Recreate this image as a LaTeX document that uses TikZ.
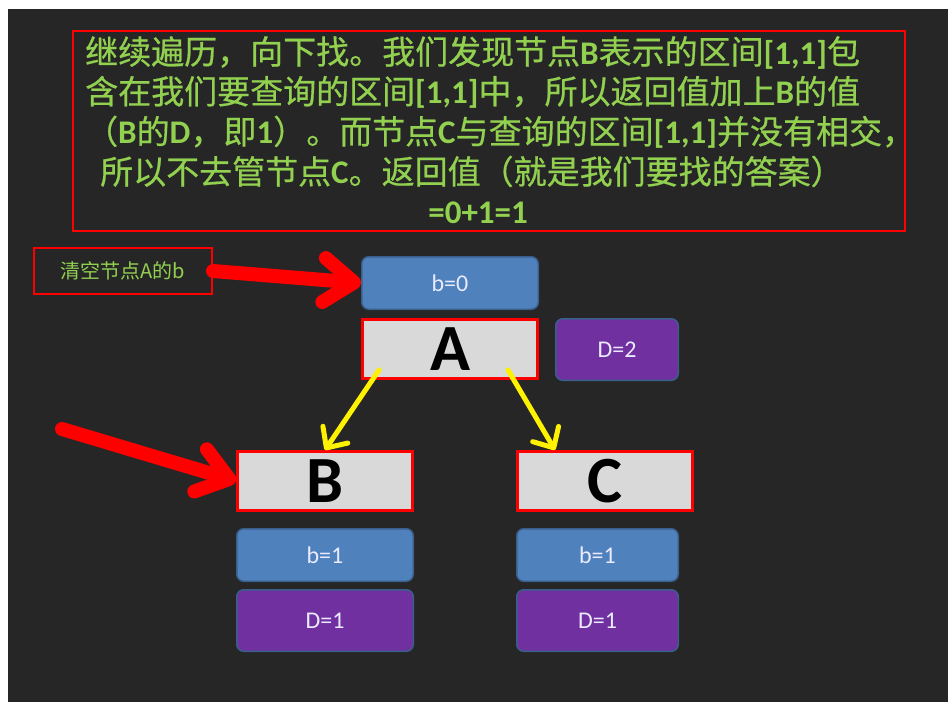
\documentclass[tikz,border=0pt]{standalone}
\usepackage{fontspec}
\setmainfont{Carlito}
\newfontfamily\cjk{Noto Sans CJK SC}
\newfontfamily\cjkheavy[FakeBold=0.6]{Noto Sans CJK SC}
\usetikzlibrary{arrows.meta,positioning}
\definecolor{bgdark}{HTML}{262626}
\definecolor{txgreen}{HTML}{92D050}
\definecolor{bxblue}{HTML}{4F81BD}
\definecolor{bxedge}{HTML}{3A5F8C}
\definecolor{bxpurple}{HTML}{7030A0}
\definecolor{bxgray}{HTML}{D9D9D9}
\newcommand{\lt}[1]{{\rmfamily\bfseries #1}}

\begin{document}
\begin{tikzpicture}[x=1pt,y=-1pt,
  seg/.style={draw=red,line width=3pt,fill=bxgray,minimum width=175pt,minimum height=59pt,
    inner sep=0pt,font=\fontsize{66}{66}\selectfont\bfseries},
  bval/.style={draw=bxedge,line width=1.5pt,fill=bxblue,rounded corners=7pt,minimum width=176.5pt,
    minimum height=52.5pt,inner sep=0pt,text=white!92!blue,font=\fontsize{24}{24}\selectfont},
  dval/.style={bval,fill=bxpurple,minimum height=61.5pt},
  bigarr/.style={red,line width=14pt,line cap=round,-{Straight Barb[length=30pt,width=44pt,round]}},
  yarr/.style={yellow,line width=5pt,line cap=round,-{Straight Barb[length=16pt,width=30pt,round]}}]
  \useasboundingbox (0,0) rectangle (948,702);
  \fill[white] (0,0) rectangle (948,702);
  \fill[bgdark] (8,9) rectangle (948,702);
  % explanation at the top
  \node[draw=red,line width=2pt,minimum width=832pt,minimum height=200pt] (note) at (489,131) {};
  \node[anchor=north west,inner sep=0pt,text=txgreen,font=\cjkheavy\fontsize{33}{39.5}\selectfont] (notetext) at (85,36)
    {\begin{tabular}{@{}l@{}}
      继续遍历，向下找。我们发现节点\lt{B}表示的区间\lt{[1,1]}包\\
      含在我们要查询的区间\lt{[1,1]}中，所以返回值加上\lt{B}的值\\
      （\lt{B}的\lt{D}，即\lt{1}）。而节点\lt{C}与查询的区间\lt{[1,1]}并没有相交，\\
      \hspace{15pt}所以不去管节点\lt{C}。返回值（就是我们要找的答案）\\
      \multicolumn{1}{@{}c@{}}{\hspace{-44pt}\lt{=0+1=1}}
    \end{tabular}};
  \node[draw=red,line width=2pt,minimum width=178pt,minimum height=46pt,text=txgreen,
    font=\cjk\fontsize{20}{20}\selectfont] (clr) at (123,271) {清空节点A的b};
  % tree
  \node[bval] (b0) at (450,283) {b=0};
  \node[seg] (A) at (450,349) {A};
  \node[dval,minimum width=122.5pt] (d2) at (617,349.5) {D=2};
  \node[seg] (B) at (325,481) {B};
  \node[seg] (C) at (605,481) {C};
  \node[bval] (b1l) at (325,555) {b=1};
  \node[dval] (d1l) at (325,620.5) {D=1};
  \node[bval,minimum width=161.5pt] (b1r) at (597.5,555) {b=1};
  \node[dval,minimum width=161.5pt] (d1r) at (597.5,620.5) {D=1};
  \coordinate (from) at (62,429);
  % arrows
  \draw[bigarr] (clr.east) -- (b0.west);
  \draw[bigarr] (from) -- (B.west);
  \draw[yarr] ([xshift=18pt,yshift=10pt]A.south west) -- (B.north);
  \draw[yarr] ([xshift=-31pt,yshift=10pt]A.south east) -- ([xshift=39pt]C.north west);
\end{tikzpicture}
\end{document}
